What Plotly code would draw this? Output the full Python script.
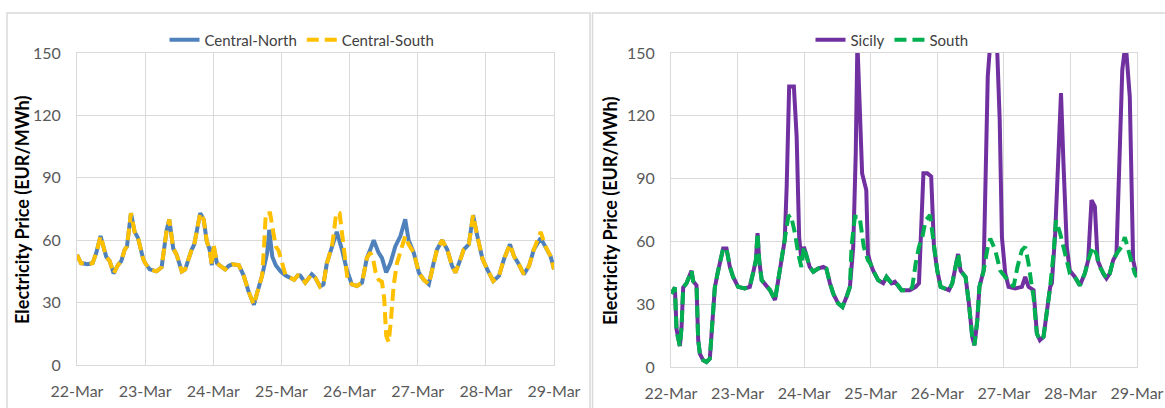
import plotly.graph_objects as go
from datetime import datetime, timedelta

# ---------------- data (hours since 22-Mar 00:00, price EUR/MWh) ----------------
cn_hours = [0, 1.4, 3.8, 5.5, 6.8, 8.3, 10.3, 11.5, 12.9, 14.4, 15.6, 16.8, 17.6, 19, 20.3, 21.5, 23.3, 24,
            25.6, 28, 29.8, 31.6, 32.5, 33.9, 35.1, 36.9, 38.1, 39.2, 40.4, 41.3, 42.2, 43.4, 44.6, 45.7, 46.7,
            47.5, 48.1, 49.3, 50.5, 52.2, 53.4, 54.6, 57, 58.7, 60.5, 62.3, 63.5, 65.2, 67, 67.7, 68.8, 70,
            71.7, 73.5, 76.5, 77.7, 78.6, 80.4, 82.7, 83.9, 85.6, 86.8, 88, 89.8, 90.9, 91.5, 93.3, 95, 96.8,
            98.6, 100.4, 102.1, 103.3, 104.5, 106.2, 107.4, 108.9, 110.4, 112.1, 113.9, 115.6, 116.8, 118.6,
            120.4, 122.1, 123.9, 125.6, 126.8, 128.6, 130.4, 132.1, 133.3, 135.1, 136.2, 138, 139.5, 141,
            142.8, 144.5, 146.6, 148.6, 150.4, 152.5, 153.9, 155.6, 157.4, 159.2, 160.9, 163.3, 165, 166.8, 168]
cn_values = [53, 49, 48.5, 49, 54, 62, 52, 50, 44, 48, 50, 55.5, 57, 73, 64, 61, 51, 49,
             46, 45, 47, 65, 70, 56, 53, 45, 46, 51, 55.5, 58, 65, 73, 70, 59.5, 55.5,
             48, 57, 49, 47.6, 46, 47.6, 48.4, 48, 43, 35, 29, 35, 43, 54, 65, 52, 48,
             45, 43, 41, 43, 43, 39.6, 43.6, 42, 37.7, 38.8, 49, 57, 62, 64, 55.5, 46, 38.8,
             38, 39.6, 51.5, 55.5, 60, 54, 51.5, 44.5, 49, 57, 62, 70, 60, 54,
             44.4, 41, 38.8, 49, 55.5, 60, 55.5, 47.6, 44.4, 51, 55.5, 58, 72, 62,
             51, 46, 40.4, 42.8, 51, 58, 52.3, 48.4, 43.6, 47.6, 55.5, 61, 57, 52.3, 46]

cs_hours = [0, 1.4, 3.8, 5.5, 6.8, 8.3, 10.3, 11.5, 12.9, 14.4, 15.6, 16.8, 17.6, 19, 20.3, 21.5, 23.3, 24,
            25.6, 28, 29.8, 31.6, 32.5, 33.9, 35.1, 36.9, 38.1, 39.2, 40.4, 41.3, 42.2, 43.4, 44.6, 45.7, 46.7,
            47.5, 48.1, 49.3, 50.5, 52.2, 53.4, 54.6, 57, 58.7, 60.5, 62.3, 63.5, 65.2, 65.8, 66.5, 68, 69,
            70, 71, 72, 73, 73.5, 76.5, 77.7, 78.6, 80.4, 82.7, 83.9, 85.6, 86.8, 88, 89.8, 90.5, 91.3, 92.5,
            93.5, 94.3, 95.3, 96.8, 98.6, 100.4, 102.1, 103.3, 104.3, 105.1, 106.2, 107.4, 108.2, 108.9, 109.8,
            110.6, 111.5, 112.7, 114.5, 115.6, 116.8, 118.6, 120.4, 122.1, 123.9, 125.6, 126.8, 128.6, 130.4,
            132.1, 133.3, 135.1, 136.2, 138, 139.5, 141, 142.8, 144.5, 146.6, 148.6, 150.4, 152.5, 153.9,
            155.6, 157.4, 159.2, 160.9, 163.3, 165, 166.8, 168]
cs_values = [53, 49, 48.5, 49, 54, 62, 52, 50, 44, 48, 50, 55.5, 57, 73, 64, 61, 51, 49,
             46, 45, 47, 65, 70, 56, 53, 45, 46, 51, 55.5, 58, 65, 73, 70, 59.5, 55.5,
             48, 58, 49, 47.6, 46, 47.6, 48.4, 48, 43, 35, 29, 35, 43, 55, 73, 73, 64,
             57, 55, 50, 46, 43, 41, 43, 43, 39.6, 43.6, 42, 37.7, 38.8, 49, 57, 64, 73, 73,
             62, 51, 41, 38.8, 38, 39.6, 51.5, 54, 51, 45, 41, 40, 32, 14, 11,
             22, 38, 49, 58, 62, 58, 54, 44.4, 41, 38.8, 49, 55.5, 60, 55.5,
             47.6, 44.4, 51, 55.5, 58, 72, 62, 51, 46, 40.4, 42.8, 51, 58, 52.3,
             48.4, 43.6, 47.6, 55.5, 64, 57, 52.3, 46]

sic_hours = [0.2, 1.4, 2, 2.6, 3.2, 3.8, 4.4, 5.6, 6.8, 7.4, 8, 9.2, 9.8, 10.4, 11.6, 12.8, 14, 14.6, 15.8, 17,
             18.8, 20, 21.2, 22.4, 24.2, 26.6, 28.4, 29.7, 30.6, 31.2, 31.8, 32.7, 34.5, 35.7, 37.5, 38.7, 39.9,
             41, 41.7, 42.6, 44.3, 45.3, 46.2, 47, 47.9, 48.9, 50, 51.3, 53, 54.9, 56, 57.3, 58.5, 60.3, 61.8,
             63.3, 64.5, 65.7, 66.6, 67.2, 68, 68.9, 70.4, 71, 71.9, 72.9, 74.7, 76.5, 77.7, 79.5, 80.7, 81.9,
             83.1, 86.1, 88.2, 89.4, 91, 92.4, 93.8, 94.8, 96, 97.2, 99, 100.2, 101.4, 102.6, 103.5, 104.4,
             106.2, 107.4, 108.6, 109.4, 110.4, 111.2, 112.7, 114.2, 115.1, 117.5, 118.5, 119.3, 120.5, 121.7,
             124.1, 126.5, 127.7, 128.9, 130.7, 131.9, 133, 134.3, 135.5, 136.7, 137.3, 138.5, 139.7, 140.6,
             141.5, 142.7, 143.8, 145.6, 147.4, 149.2, 150.4, 151.6, 152.8, 153.8, 155.8, 157, 158.2, 159.4,
             160.6, 161.8, 162.7, 163.9, 165.4, 166.6, 168]
sic_values = [35, 38, 18, 13, 10, 19, 38, 40, 45, 46, 41, 39, 13, 6.4, 3.2, 2.4, 4, 14, 38, 46,
              56.6, 56.6, 48, 43, 38.3, 37.5, 38.3, 45.5, 51, 64, 51, 41.5, 38.3, 36.7, 32, 41.5, 51,
              60.6, 86, 134, 134, 110, 62, 51, 57.4, 52.6, 47.8, 45.5, 47, 47.8, 47, 40, 35, 30.3, 28.7,
              33.5, 38.3, 57.4, 102, 155, 129, 92.5, 84.5, 54, 49.4, 46, 41.5, 40, 43, 40, 40.7, 39,
              36.7, 36.7, 38.3, 40, 92.5, 92.5, 91, 57.4, 46, 38.3, 37.5, 36.7, 40, 49.4, 54, 46,
              43, 30.3, 14.4, 10.4, 22, 38.3, 46, 138.8, 155, 155, 118, 62, 44.7, 38.3,
              37.5, 38.3, 43, 38.3, 36.7, 16, 12.8, 14.4, 25.5, 38.3, 40, 63.8, 102, 130.8,
              97, 57.4, 46, 43, 39, 44.7, 51, 79.7, 76.6, 51, 44.7, 42.3, 44.7, 51,
              54, 102, 142, 155, 129, 51, 43]

south_hours = [0.2, 1.4, 2, 2.6, 3.2, 3.8, 4.4, 5.6, 6.8, 7.4, 8, 9.2, 9.8, 10.4, 11.6, 12.8, 14, 14.6, 15.8, 17,
               18.8, 20, 21.2, 22.4, 24.2, 26.6, 28.4, 29.7, 30.6, 31.2, 31.8, 32.7, 34.5, 35.7, 37.5, 38.7, 39.9,
               41, 42.3, 43.2, 44.7, 45.9, 47, 47.9, 48.9, 50, 51.3, 53, 54.9, 56, 57.3, 58.5, 60.3, 61.8,
               63.3, 64.5, 65.1, 66.3, 68, 69.5, 71, 71.9, 72.9, 74.7, 76.5, 77.7, 79.5, 80.7, 81.9,
               83.1, 86.1, 87, 88.2, 89.4, 90.6, 91.8, 93.4, 94.8, 96, 97.2, 99, 100.2, 101.4, 102.6, 103.5, 104.4,
               106.2, 107.4, 108.6, 109.4, 110.4, 111.2, 112.7, 114.2, 115.1, 116.9, 118.7, 120.5, 122.3, 123.5,
               124.9, 126.5, 127.7, 128.9, 130.1, 130.7, 131.9, 133, 134.3, 135.5, 136.7, 137.9, 138.8, 140.3,
               141.5, 142.7, 143.8, 145.6, 147.4, 149.2, 150.4, 152, 153.4, 154.6, 155.8, 157, 158.2, 159.4,
               160.6, 162.4, 163.6, 164.8, 166, 167.2, 168]
south_values = [35, 38, 17, 12, 10, 19, 38, 40, 45, 46, 41, 39, 13, 6.4, 3.2, 2.4, 4, 14, 38, 46,
                56.6, 56.6, 48, 43, 38.3, 37.5, 38.3, 45.5, 51, 64, 51, 41.5, 38.3, 36.7, 32, 41.5, 51,
                60.6, 71.8, 72.6, 63.8, 54, 47.8, 57.4, 52.6, 47.8, 45.5, 47, 47.8, 47, 40, 35, 30.3, 28.7,
                33.5, 38.3, 58, 71.8, 71.8, 57.4, 51, 49.4, 46, 41.5, 40, 43, 40, 40.7, 39,
                36.7, 36.7, 38.3, 49.4, 57.4, 62, 70, 72.6, 57.4, 46, 38.3, 37.5, 36.7, 40, 49.4, 54, 46,
                43, 30.3, 14.4, 10.4, 22, 38.3, 46, 57.4, 61.4, 55.8, 46, 43, 40, 38.3,
                47.8, 55.8, 57.4, 49.4, 38.3, 33.5, 16, 12.8, 14.4, 25.5, 38.3, 54, 70, 63.8,
                57.4, 49.4, 44.7, 43, 39, 44.7, 51, 57.4, 54, 47.8, 44.7, 42.3, 44.7, 51,
                54, 57.4, 62, 55.8, 51, 44.7, 43]

y_ticks = [0, 30, 60, 90, 120, 150]
y_title = "Electricity Price (EUR/MWh)"
start = datetime(2021, 3, 22)
end = datetime(2021, 3, 29)


def to_dates(hours):
    return [start + timedelta(hours=h) for h in hours]


W, H = 1165, 408
FONT = "Lato"
GRID = "#d9d9d9"
TICKC = "#595959"


def px(x):
    return x / W


def py(y):
    return (H - y) / H


fig = go.Figure()

fig.add_trace(go.Scatter(x=to_dates(cn_hours), y=cn_values, name="Central-North", mode="lines",
                         line=dict(color="#4F81BD", width=4), xaxis="x", yaxis="y", legend="legend"))
fig.add_trace(go.Scatter(x=to_dates(cs_hours), y=cs_values, name="Central-South", mode="lines",
                         line=dict(color="#FFC000", width=4, dash="12px,6px"), xaxis="x", yaxis="y",
                         legend="legend"))
fig.add_trace(go.Scatter(x=to_dates(sic_hours), y=sic_values, name="Sicily", mode="lines",
                         line=dict(color="#7030A0", width=4), xaxis="x2", yaxis="y2", legend="legend2"))
fig.add_trace(go.Scatter(x=to_dates(south_hours), y=south_values, name="South", mode="lines",
                         line=dict(color="#00B050", width=4, dash="12px,6px"), xaxis="x2", yaxis="y2",
                         legend="legend2"))

xcommon = dict(type="date", range=[start, end], tick0=start, dtick=86400000, tickformat="%d-%b",
               showgrid=True, gridcolor=GRID, gridwidth=1, showline=True, linecolor=GRID, linewidth=1,
               mirror=True, ticks="", ticklabelstandoff=12, zeroline=False, automargin=False,
               tickfont=dict(family=FONT, size=16, color=TICKC))
ycommon = dict(range=[0, 150], tickvals=y_ticks, showgrid=True, gridcolor=GRID, gridwidth=1,
               showline=True, linecolor=GRID, linewidth=1, mirror=True, ticks="", zeroline=False,
               ticklabelstandoff=12, automargin=False, tickfont=dict(family=FONT, size=16, color=TICKC))

legcommon = dict(orientation="h", xanchor="center", yanchor="middle", bgcolor="rgba(0,0,0,0)",
                 xref="container", yref="container",
                 font=dict(family=FONT, size=15, color="#404040"), itemwidth=30, tracegroupgap=0)

fig.update_layout(
    template="none",
    width=W, height=H, margin=dict(l=0, r=0, t=0, b=0, autoexpand=False),
    paper_bgcolor="white", plot_bgcolor="white",
    xaxis=dict(domain=[px(77), px(554)], anchor="y", **xcommon),
    yaxis=dict(domain=[py(365), py(53)], anchor="x", **ycommon),
    xaxis2=dict(domain=[px(671), px(1137)], anchor="y2", **xcommon),
    yaxis2=dict(domain=[py(367), py(53)], anchor="x2", **ycommon),
    legend=dict(x=px(302), y=py(40), **legcommon),
    legend2=dict(x=px(892), y=py(40), **legcommon),
    annotations=[
        dict(text=y_title, xref="paper", yref="paper", x=px(22), y=py(210), textangle=-90,
             showarrow=False, xanchor="center", yanchor="middle",
             font=dict(family=FONT, size=18, color="#000000", weight="bold")),
        dict(text=y_title, xref="paper", yref="paper", x=px(610), y=py(211), textangle=-90,
             showarrow=False, xanchor="center", yanchor="middle",
             font=dict(family=FONT, size=18, color="#000000", weight="bold")),
    ],
    shapes=[
        dict(type="rect", xref="paper", yref="paper", x0=px(7), x1=px(590), y0=-0.1, y1=py(13),
             line=dict(color=GRID, width=1.5), layer="below"),
        dict(type="rect", xref="paper", yref="paper", x0=px(592.5), x1=1.1, y0=-0.1, y1=py(13),
             line=dict(color=GRID, width=1.5), layer="below"),
    ],
)

fig.write_html("out.html", config={"displayModeBar": False},
               post_script="document.body.style.margin='0px';document.body.style.overflow='hidden';")
